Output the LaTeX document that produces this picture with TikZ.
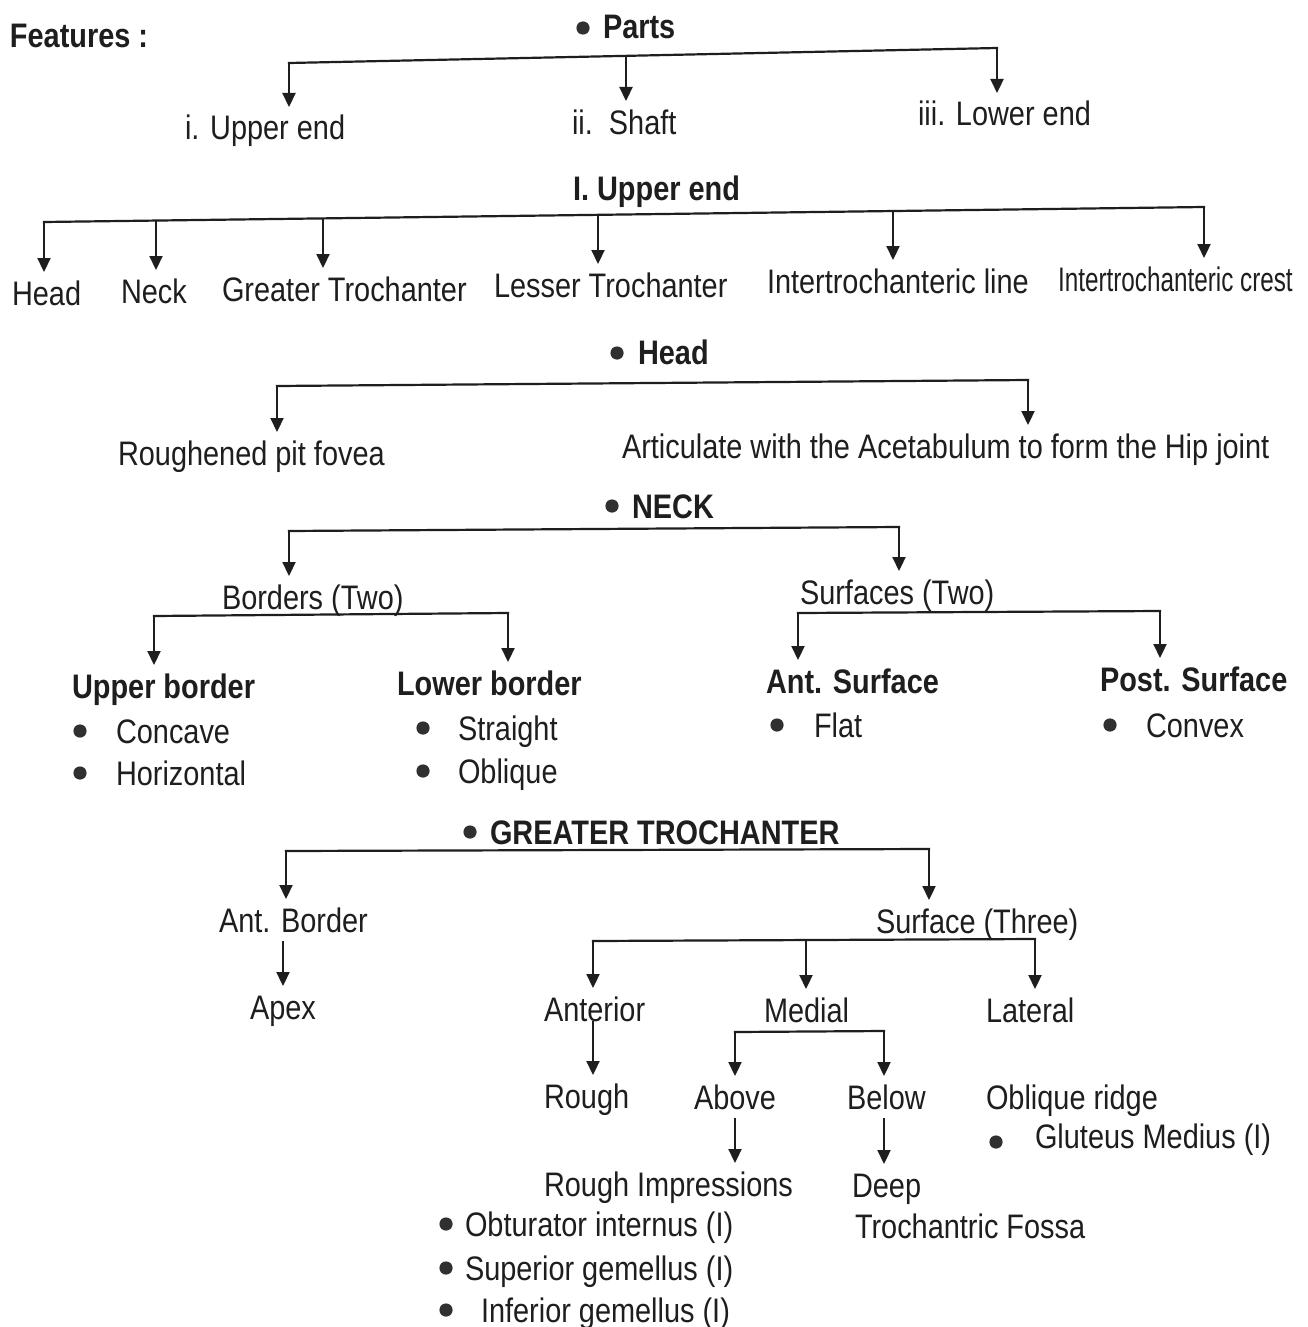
\documentclass[tikz,border=0pt]{standalone}
\usepackage{fontspec}
\usepackage{graphicx}
\setmainfont{Liberation Sans}[FakeStretch=0.85]
\usetikzlibrary{arrows.meta,calc}
\definecolor{ink}{HTML}{1E1E1E}
\definecolor{dotc}{HTML}{303030}
\begin{document}
\begin{tikzpicture}[x=0.5pt,y=-0.5pt,
  t/.style={anchor=base west,inner sep=0pt,outer sep=0pt,text height=12.5pt,text depth=3.5pt,text=ink,font=\fontsize{17}{20}\selectfont},
  b/.style={t,font=\fontsize{17}{20}\selectfont\bfseries},
  ln/.style={draw=ink,line width=1.1pt,line cap=rect},
  arr/.style={draw=ink,line width=1.1pt,-{Triangle[length=7pt,width=6.5pt]},shorten >=4pt},
  dn/.style={draw=ink,line width=1.1pt,-{Triangle[length=7pt,width=6.5pt]},shorten >=4pt,shorten <=1pt}]
\fill[white] (0,0) rectangle (1307,1327);
\useasboundingbox (0,0) rectangle (1307,1327);
\newcommand{\bul}[2]{\fill[dotc] (#1,#2) circle[radius=3.3pt];}

% ---------- Parts ----------
\node[b] (feat) at (10,48) {Features :};
\bul{583}{28}
\node[b] (parts) at (603,39) {Parts};
\node[t] (up) at (185,140) {i. Upper end};
\node[t] (shaft) at (572,134) {ii.\ \ Shaft};
\node[t] (low) at (918,126) {iii. Lower end};
\coordinate (p1) at (289,63);
\coordinate (p2) at (626,56);
\coordinate (p3) at (997,48);
\draw[ln] (p1) -- (p3);
\draw[arr] (p1) -- (p1 |- up.north);
\draw[arr] (p2) -- (p2 |- shaft.north);
\draw[arr] (p3) -- (p3 |- low.north);

% ---------- I. Upper end ----------
\node[b] (ue) at (573,200) {I. Upper end};
\node[t] (head) at (12,305) {Head};
\node[t] (neck) at (121,303) {Neck};
\node[t] (gt) at (222,301) {Greater Trochanter};
\node[t] (lt) at (494,297) {Lesser Trochanter};
\node[t] (itl) at (767,293) {Intertrochanteric line};
\node[t] (itc) at (1058,291) {\scalebox{0.84}[1]{Intertrochanteric crest}};
\coordinate (u1) at (44,222);
\coordinate (u2) at (156,220.6);
\coordinate (u3) at (323,218.4);
\coordinate (u4) at (598,214.8);
\coordinate (u5) at (893,211);
\coordinate (u6) at (1204,207);
\draw[ln] (u1) -- (u6);
\draw[arr] (u1) -- (u1 |- head.north);
\draw[arr] (u2) -- (u2 |- neck.north);
\draw[arr] (u3) -- (u3 |- gt.north);
\draw[arr] (u4) -- (u4 |- lt.north);
\draw[arr] (u5) -- (u5 |- itl.north);
\draw[arr] (u6) -- (u6 |- itc.north);

% ---------- Head ----------
\bul{617}{353}
\node[b] (hd) at (638,364) {Head};
\node[t] (rpf) at (118,465) {Roughened pit fovea};
\node[t] (art) at (622,458) {Articulate with the Acetabulum to form the Hip joint};
\coordinate (h1) at (277,386);
\coordinate (h2) at (1028,380);
\draw[ln] (h1) -- (h2);
\draw[arr] (h1) -- (h1 |- rpf.north);
\draw[arr] (h2) -- (h2 |- art.north);

% ---------- NECK ----------
\bul{612}{506}
\node[b] (nk) at (632,518) {NECK};
\node[t] (bord) at (222,609) {Borders (Two)};
\node[t] (surf) at (800,604) {Surfaces (Two)};
\coordinate (n1) at (289,531);
\coordinate (n2) at (899,527);
\draw[ln] (n1) -- (n2);
\draw[arr] (n1) -- (n1 |- bord.north);
\draw[arr] (n2) -- (n2 |- surf.north);

\node[b] (ub) at (72,698) {Upper border};
\bul{80}{731}
\node[t] (conc) at (116,743) {Concave};
\bul{80}{773}
\node[t] (hor) at (116,785) {Horizontal};
\node[b] (lb) at (397,695) {Lower border};
\bul{423}{728}
\node[t] (str) at (458,740) {Straight};
\bul{423}{771}
\node[t] (obl) at (458,783) {Oblique};
\coordinate (bo1) at (154,616);
\coordinate (bo2) at (508,613);
\draw[ln] (bo1) -- (bo2);
\draw[arr] (bo1) -- (bo1 |- ub.north);
\draw[arr] (bo2) -- (bo2 |- lb.north);

\node[b] (as) at (766,693) {Ant. Surface};
\bul{777}{725}
\node[t] (flat) at (814,737) {Flat};
\node[b] (ps) at (1100,691) {Post. Surface};
\bul{1110}{725}
\node[t] (conv) at (1146,737) {Convex};
\coordinate (s1) at (798,613);
\coordinate (s2) at (1160,611);
\draw[ln] (s1) -- (s2);
\draw[arr] (s1) -- (s1 |- as.north);
\draw[arr] (s2) -- (s2 |- ps.north);

% ---------- GREATER TROCHANTER ----------
\bul{470}{832}
\node[b] (gtr) at (490,844) {GREATER TROCHANTER};
\node[t] (ab) at (219,932) {Ant. Border};
\node[t] (apex) at (250,1019) {Apex};
\node[t] (s3) at (876,933) {Surface (Three)};
\coordinate (g1) at (286,851);
\coordinate (g2) at (929,849);
\draw[ln] (g1) -- (g2);
\draw[arr] (g1) -- (g1 |- ab.north);
\draw[arr] (g2) -- (g2 |- s3.north);
\coordinate (abx) at (283,0);
\draw[dn] (abx |- ab.south) -- (abx |- apex.north);

\node[t] (ant) at (544,1021) {Anterior};
\node[t] (med) at (764,1022) {Medial};
\node[t] (lat) at (986,1022) {Lateral};
\coordinate (t1) at (593,941);
\coordinate (t2) at (806,940);
\coordinate (t3) at (1035,939);
\draw[ln] (t1) -- (t3);
\draw[arr] (t1) -- (t1 |- ant.north);
\draw[arr] (t2) -- (t2 |- med.north);
\draw[arr] (t3) -- (t3 |- lat.north);

\node[t] (rough) at (544,1108) {Rough};
\coordinate (anx) at (593,0);
\draw[arr] (anx |- ant.base) -- (anx |- rough.north);

\node[t] (above) at (694,1109) {Above};
\node[t] (below) at (847,1109) {Below};
\coordinate (m1) at (735,1032);
\coordinate (m2) at (884,1031);
\draw[ln] (m1) -- (m2);
\draw[arr] (m1) -- (m1 |- above.north);
\draw[arr] (m2) -- (m2 |- below.north);

\node[t] (oblr) at (986,1109) {Oblique ridge};
\bul{996}{1142}
\node[t] (glut) at (1035,1148) {Gluteus Medius (I)};

\node[t] (ri) at (544,1196) {Rough Impressions};
\bul{446}{1224}
\node[t] (obt) at (465,1236) {Obturator internus (I)};
\bul{446}{1268}
\node[t] (sup) at (465,1280) {Superior gemellus (I)};
\bul{446}{1310}
\node[t] (inf) at (481,1322) {Inferior gemellus (I)};
\node[t] (deep) at (852,1197) {Deep};
\node[t] (fossa) at (855,1238) {Trochantric Fossa};
\coordinate (ax) at (735,0);
\coordinate (bx) at (884,0);
\draw[dn] (ax |- above.south) -- (ax |- ri.north);
\draw[dn] (bx |- below.south) -- (bx |- deep.north);
\end{tikzpicture}
\end{document}
